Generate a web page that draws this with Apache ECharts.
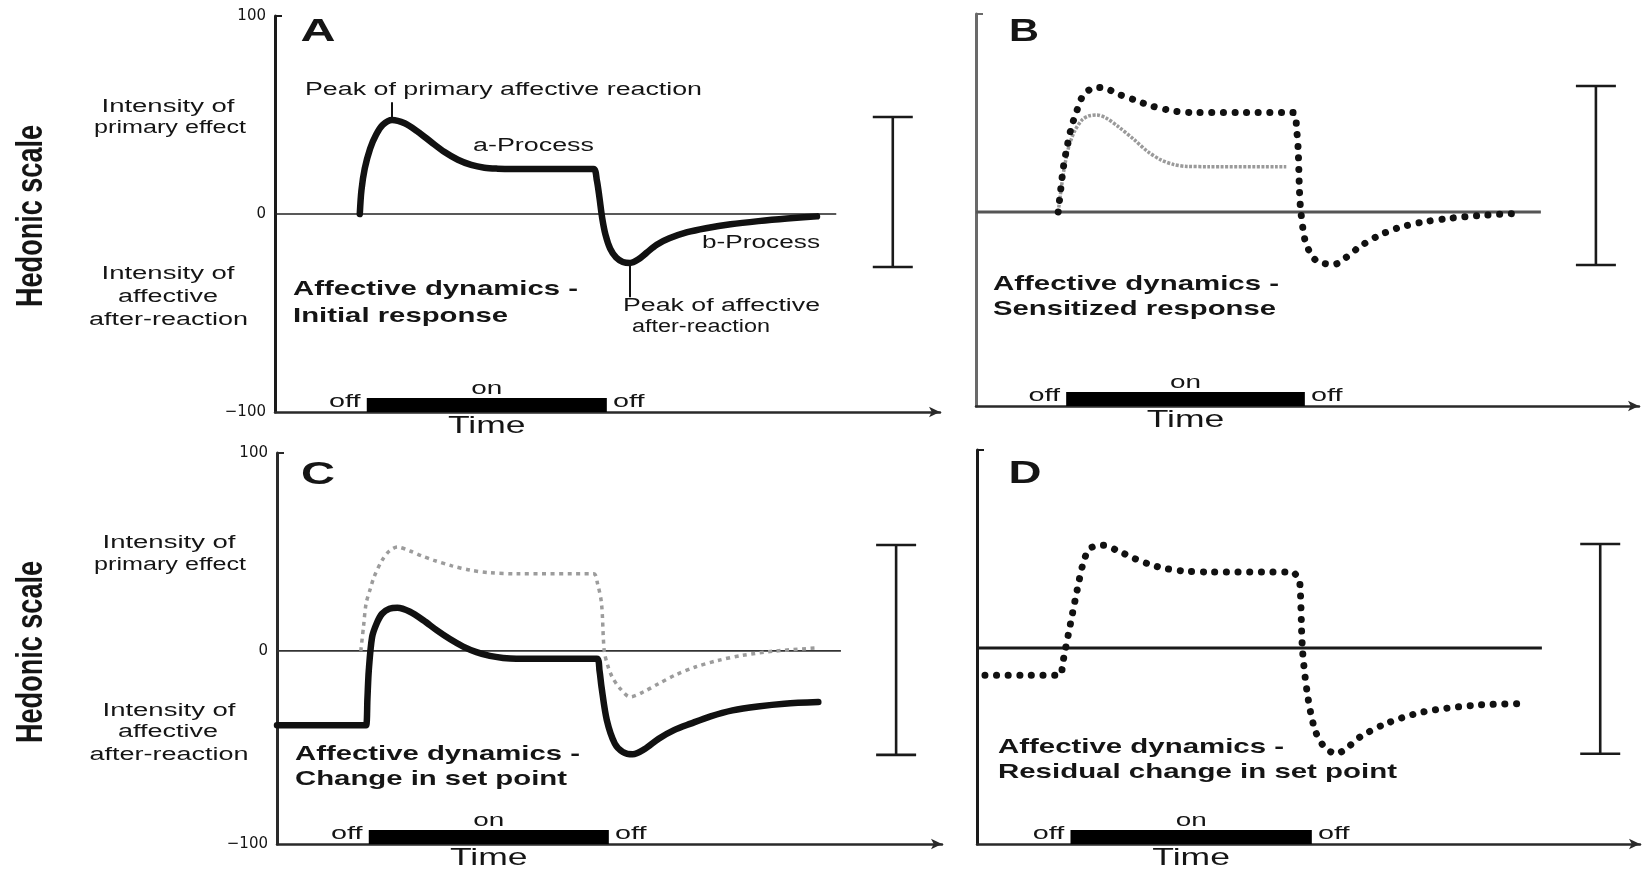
<!DOCTYPE html>
<html lang="en">
<head>
<meta charset="UTF-8">
<script src="https://cdn.jsdelivr.net/npm/echarts@6/dist/echarts.min.js"></script>
<style>
  html, body { margin: 0; background: #fff; }
  #chart { width: 1642px; height: 877px; }
</style>
</head>
<body>
<div id="chart"></div>
<script>
// ---- data (time units 0-100, hedonic scale -100..100) ----
const curveA = [[12.75,0],[13.0,12],[13.5,23],[14.3,33],[15.2,40],[16.2,45],[17.6,47.5],[19.5,45.8],[21.5,41.5],[23.5,36.3],[25.5,31.3],[27.5,27.4],[29.5,24.8],[31.5,23.4],[33.5,22.9],[35.5,22.7],[45,22.7],[47.9,22.7],[48.4,17],[48.8,8],[49.2,-2],[49.7,-10.5],[50.4,-17.5],[51.3,-22],[52.3,-24.2],[53.4,-24.7],[54.6,-23],[55.9,-19.5],[57.4,-15.5],[59.3,-12.3],[62,-9.2],[64.8,-7.2],[68.5,-5.2],[72.7,-3.6],[77,-2.3],[81.5,-1.2]];
const leadersA = [[17.6, 47.5, 56.5], [53.4, -24.7, -42]];

const curveB = [[12.4,0],[12.8,12],[13.2,23],[13.8,34],[14.4,43],[15.2,51],[16.0,58],[17,61.5],[18,63],[19.5,62.5],[21.5,59.5],[23.9,56.6],[26.5,53.5],[30.2,50.8],[33,50.2],[40,50.2],[47.8,50.2],[48.4,40],[48.6,31],[48.8,10],[49.0,0],[49.6,-14],[50.3,-20],[51.2,-24.2],[52.5,-26],[54.0,-26.5],[55.8,-23],[57.9,-17.5],[60.5,-12.3],[63.5,-8.2],[67.2,-5.2],[71.4,-3.2],[76,-1.8],[81.6,-0.7]];
const curveBInitial = [[12.4,0],[13.2,20],[14.0,33],[14.9,41],[16,46.5],[17,48.5],[18.2,49],[19.6,47.5],[21.5,43],[23.9,36.4],[25.9,30.5],[27.9,26.3],[29.8,24],[31.8,23],[35,22.9],[46.8,22.9]];

const curveC = [[0,-37.5],[13.0,-37.5],[13.4,-37.5],[13.6,-24],[13.8,-10],[14.3,7],[15,14],[15.8,18.8],[16.9,21.3],[18.1,21.8],[20,19.8],[22,15.5],[24,10.5],[26,6],[28,2.2],[30,-0.6],[32,-2.5],[34,-3.5],[36,-3.9],[45,-3.9],[48.1,-3.9],[48.5,-10],[48.8,-18.2],[49.6,-35],[50.8,-46.8],[52,-51],[53.5,-52.2],[55.3,-49.5],[57.4,-44.3],[59.7,-40],[62.2,-36.7],[65.2,-33],[68.5,-30],[72.3,-28],[76.3,-26.6],[81.4,-25.8]];
const curveCBefore = [[12.6,0],[13.0,12],[13.4,24],[14.0,31],[14.6,37.4],[15.8,45.8],[16.9,50.5],[18.1,52.5],[20,50.5],[21.8,48],[23.6,45.8],[26.3,43],[29.1,40.8],[32,39.5],[36,39],[47.6,39],[48.2,34],[48.8,24],[49.2,0.3],[49.7,-7],[50.4,-13.1],[51.6,-19],[53.1,-23.2],[55.2,-20.5],[57.4,-16.5],[60,-12],[62.9,-8.1],[66.3,-4.8],[70,-2.2],[75,0],[81,1.5]];

const curveD = [[1.2,-13.8],[8,-13.8],[12.5,-13.8],[12.9,-8],[13.3,-1.2],[14.1,12.3],[15.1,29.1],[16,42.6],[17,50.2],[19,51.9],[21.3,49],[23.8,45.1],[26,42.3],[28.5,40.1],[31.5,38.8],[35,38.4],[47.5,38.4],[48.3,36],[48.7,32.5],[49.1,-1.2],[49.9,-24.7],[51,-41.6],[52.4,-50],[54.2,-53.4],[55.8,-50.5],[57.8,-44.9],[61.7,-38.2],[67.3,-32.3],[75.2,-28.9],[82.7,-28.1]];

// zero reference lines end (time units)
const zeroEnds = [84.4, 85.2, 84.8, 85.2];
// stimulus on/off interval per panel
const stimulus = [[13.8, 49.9], [13.6, 49.6], [13.8, 49.9], [14.1, 50.5]];
// range bars per panel: [time, low, high]
const ranges = [[92.9, -26.8, 49], [93.5, -26.8, 63.6], [93.1, -52.5, 53.5], [94, -53.4, 52.5]];
// y axis minimum per panel (scan is slightly uneven) and tick labels
const yMins = [-100, -98, -97.5, -99];
const yTicks = ['\u2212100', '0', '100'];

// ---- layout ----
const FONT = '"Liberation Sans", Arial, sans-serif';
const INK = '#151515';
const grids = [
  { left: 275, top: 16, width: 665, height: 396 },
  { left: 976, top: 14, width: 663, height: 392 },
  { left: 277, top: 453, width: 665, height: 391 },
  { left: 977, top: 450, width: 663, height: 394 }
];

const ctx = document.createElement('canvas').getContext('2d');
function fontStr(size, bold) { return (bold ? 'bold ' : '') + size + 'px ' + FONT; }
function fit(text, size, bold, width) {
  ctx.font = fontStr(size, bold);
  return width / ctx.measureText(text).width;
}
function txt(text, x, y, size, bold, width, align) {
  return {
    type: 'text', x: x, y: y, silent: true,
    scaleX: fit(text, size, bold, width),
    style: { text: text, font: fontStr(size, bold), fill: INK,
      align: align || 'center', verticalAlign: 'middle',
      textAlign: align || 'center', textVerticalAlign: 'middle' }
  };
}
function vtxt(text, x, y, size, length) {
  return {
    type: 'text', x: x, y: y, rotation: Math.PI / 2, silent: true,
    scaleX: fit(text, size, true, length), scaleY: 1.45,
    style: { text: text, font: fontStr(size, true), fill: INK,
      align: 'center', verticalAlign: 'middle', textAlign: 'center', textVerticalAlign: 'middle' }
  };
}

const texts = [
  txt('A', 318, 32, 32, true, 35),
  txt('Peak of primary affective reaction', 503.5, 90, 18, false, 397),
  txt('a-Process', 533.5, 146, 18, false, 121),
  txt('b-Process', 761, 243, 18, false, 118),
  txt('Peak of affective', 721.5, 306, 18, false, 197),
  txt('after-reaction', 701, 327, 18, false, 138),
  txt('Affective dynamics -', 293, 289.5, 21, true, 285, 'left'),
  txt('Initial response', 293, 316, 21, true, 215, 'left'),
  txt('Intensity of', 168, 107, 18, false, 133),
  txt('primary effect', 170, 128, 18, false, 152),
  txt('Intensity of', 168, 274, 18, false, 133),
  txt('affective', 168, 297, 18, false, 100),
  txt('after-reaction', 168.5, 320, 18, false, 159),
  vtxt('Hedonic scale', 32, 216, 26, 182),

  txt('B', 1024, 32, 32, true, 30),
  txt('Affective dynamics -', 993, 284, 21, true, 286, 'left'),
  txt('Sensitized response', 993, 309.5, 21, true, 283, 'left'),

  txt('C', 318, 475, 32, true, 34),
  txt('Intensity of', 169, 543, 18, false, 133),
  txt('primary effect', 170, 565, 18, false, 152),
  txt('Intensity of', 169, 711, 18, false, 133),
  txt('affective', 168, 732, 18, false, 100),
  txt('after-reaction', 169, 755, 18, false, 159),
  vtxt('Hedonic scale', 32, 652, 26, 182),
  txt('Affective dynamics -', 295, 754, 21, true, 285, 'left'),
  txt('Change in set point', 295, 779.5, 21, true, 272, 'left'),

  txt('D', 1025, 474, 32, true, 33),
  txt('Affective dynamics -', 998, 747.5, 21, true, 286, 'left'),
  txt('Residual change in set point', 998, 772.5, 21, true, 399, 'left')
];

// ---- custom renderers ----
function renderRange(params, api) {
  const top = api.coord([api.value(0), api.value(2)]);
  const bot = api.coord([api.value(0), api.value(1)]);
  const w = 20;
  const st = { stroke: '#1a1a1a', lineWidth: 2.6 };
  return { type: 'group', children: [
    { type: 'line', shape: { x1: top[0], y1: top[1], x2: bot[0], y2: bot[1] }, style: st },
    { type: 'line', shape: { x1: top[0] - w, y1: top[1], x2: top[0] + w, y2: top[1] }, style: st },
    { type: 'line', shape: { x1: bot[0] - w, y1: bot[1], x2: bot[0] + w, y2: bot[1] }, style: st }
  ] };
}
function renderStim(params, api) {
  const cs = params.coordSys;
  const yb = cs.y + cs.height;
  const x0 = api.coord([api.value(0), 0])[0];
  const x1 = api.coord([api.value(1), 0])[0];
  const mid = (x0 + x1) / 2;
  function t(s, x, y, size, sx) {
    return { type: 'text', x: x, y: y, scaleX: sx,
      style: { text: s, font: fontStr(size, false), fill: INK, align: 'center', verticalAlign: 'middle',
        textAlign: 'center', textVerticalAlign: 'middle' } };
  }
  return { type: 'group', children: [
    { type: 'rect', shape: { x: x0, y: yb - 14, width: x1 - x0, height: 14 }, style: { fill: '#000' } },
    t('off', x0 - 22, yb - 10, 18, 1.6),
    t('on', mid, yb - 23, 18, 1.55),
    t('off', x1 + 22, yb - 10, 18, 1.6),
    t('Time', mid, yb + 14, 24, 1.48)
  ] };
}

// ---- axes ----
const axisColors = ['#1a1a1a', '#6a6a6a', '#2a2a2a', '#1a1a1a'];
const xAxes = grids.map(function (g, i) {
  return {
    gridIndex: i, type: 'value', min: 0, max: 100,
    axisLine: { onZero: false, symbol: ['none', 'arrow'], symbolSize: [8, 11],
      lineStyle: { color: '#2a2a2a', width: 2.5 } },
    axisTick: { show: false }, axisLabel: { show: false }, splitLine: { show: false }
  };
});
const yAxes = grids.map(function (g, i) {
  const labelled = (i === 0 || i === 2);
  const min = yMins[i];
  return {
    gridIndex: i, type: 'value', min: min, max: 100,
    axisLine: { show: true, onZero: false, lineStyle: { color: axisColors[i], width: 3 } },
    axisTick: { show: true, inside: true, length: 7, customValues: [100],
      lineStyle: { color: axisColors[i], width: 2 } },
    axisLabel: {
      show: labelled, customValues: [min, 0, 100], margin: 9,
      fontFamily: 'DejaVu Sans', fontSize: 15, color: INK,
      formatter: function (v) { return v < -50 ? yTicks[0] : (v > 50 ? yTicks[2] : yTicks[1]); }
    },
    splitLine: { show: false }
  };
});

// ---- series ----
function curve(i, data, lineStyle, z) {
  return { type: 'line', xAxisIndex: i, yAxisIndex: i, data: data, symbol: 'none',
    smooth: 0.3, silent: true, z: z || 3, lineStyle: lineStyle };
}
const solidThick = { color: '#111', width: 6.5, cap: 'round', join: 'round' };
const dottedBlack = { color: '#111', width: 7, type: [0.1, 11.5], cap: 'round' };
const zeroStyles = [
  { color: '#222', width: 1.6 }, { color: '#555', width: 3 },
  { color: '#333', width: 1.8 }, { color: '#1a1a1a', width: 3 }
];

const series = [];
grids.forEach(function (g, i) {
  series.push({ type: 'line', xAxisIndex: i, yAxisIndex: i, data: [[0, 0], [zeroEnds[i], 0]],
    symbol: 'none', silent: true, z: 2, lineStyle: zeroStyles[i] });
  series.push({ type: 'custom', xAxisIndex: i, yAxisIndex: i, data: [ranges[i]],
    encode: { x: 0, y: [1, 2] }, renderItem: renderRange, clip: false, silent: true });
  series.push({ type: 'custom', xAxisIndex: i, yAxisIndex: i, data: [stimulus[i]],
    encode: { x: [0, 1] }, renderItem: renderStim, clip: false, silent: true });
});

const a = curve(0, curveA, solidThick, 4);
a.markLine = {
  silent: true, symbol: ['none', 'none'], label: { show: false }, animation: false,
  lineStyle: { color: '#111', width: 2, type: 'solid' },
  data: leadersA.map(function (l) { return [{ coord: [l[0], l[1]] }, { coord: [l[0], l[2]] }]; })
};
series.push(a);
series.push(curve(1, curveBInitial, { color: '#9a9a9a', width: 3.5, type: [3, 1.5] }, 3));
series.push(curve(1, curveB, dottedBlack, 4));
series.push(curve(2, curveCBefore, { color: '#9c9c9c', width: 3.5, type: [4, 4.5] }, 3));
series.push(curve(2, curveC, solidThick, 4));
series.push(curve(3, curveD, dottedBlack, 4));

const chart = echarts.init(document.getElementById('chart'));
chart.setOption({
  animation: false,
  backgroundColor: '#fff',
  grid: grids,
  xAxis: xAxes,
  yAxis: yAxes,
  series: series,
  graphic: texts
});
</script>
</body>
</html>
